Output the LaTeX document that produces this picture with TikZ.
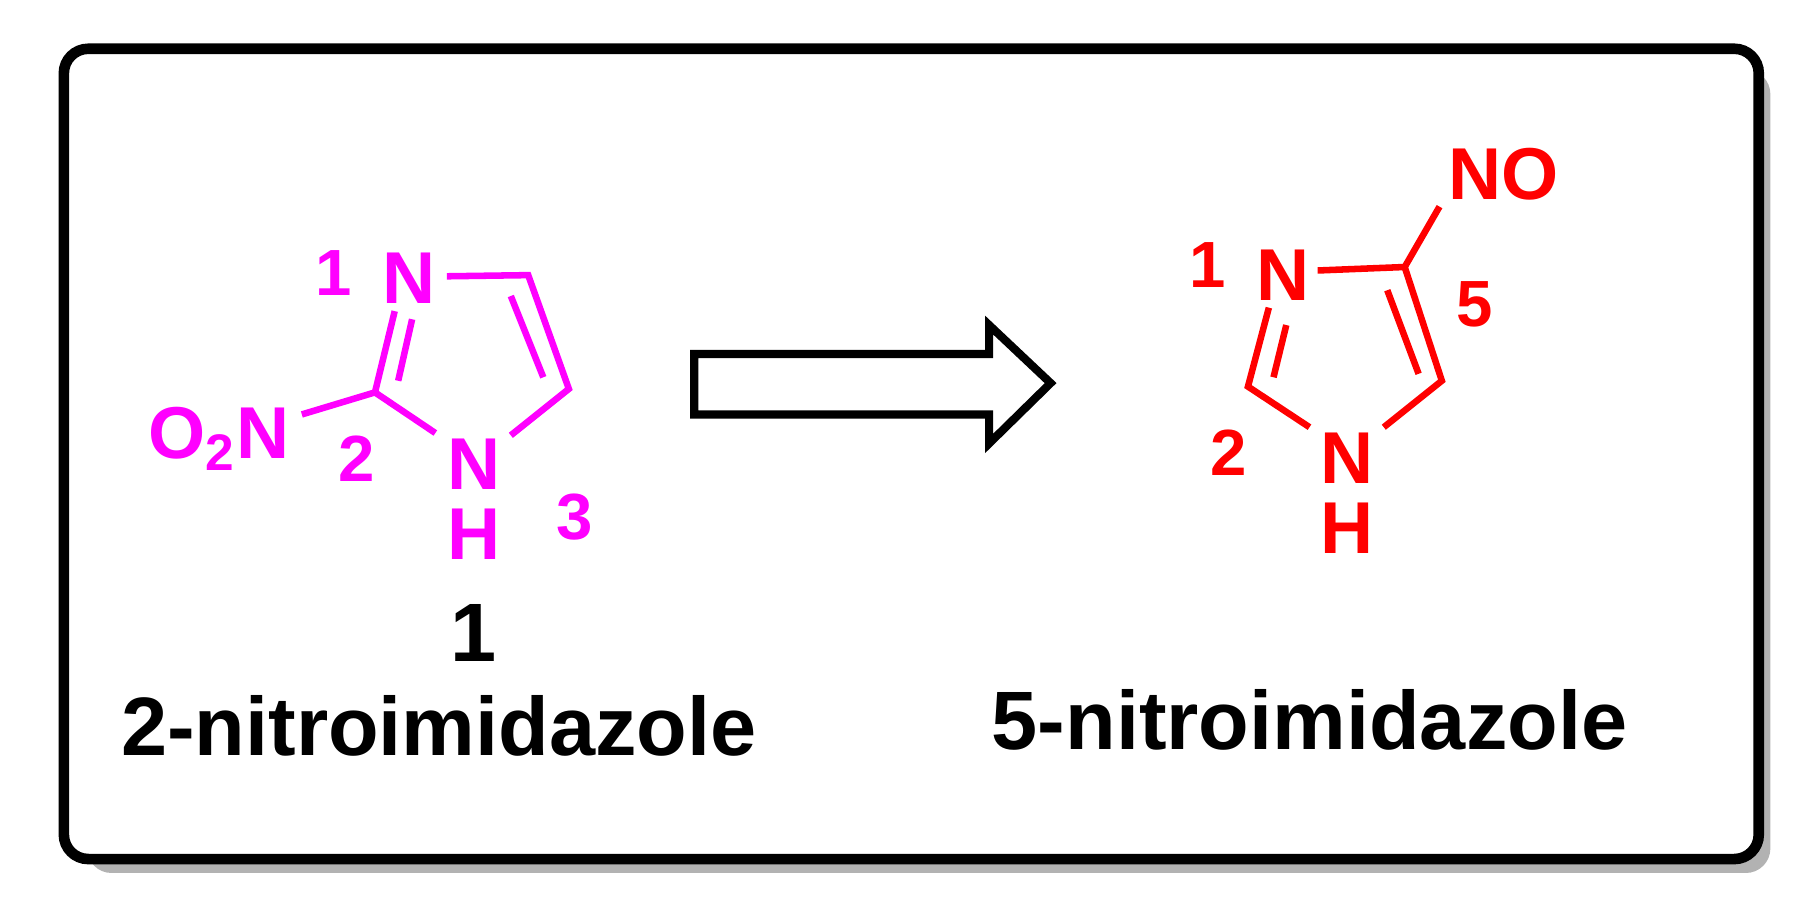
\documentclass[tikz,border=0pt]{standalone}
\usepackage{fontspec}
\setmainfont{Liberation Sans}
\definecolor{mag}{RGB}{255,0,255}
\definecolor{rd}{RGB}{255,0,0}
\begin{document}
\begin{tikzpicture}[x=0.01cm,y=-0.01cm,
  atom/.style={inner sep=0pt,font=\fontsize{18}{18}\selectfont\bfseries},
  num/.style={inner sep=0pt,font=\fontsize{16}{16}\selectfont\bfseries},
  title/.style={inner sep=0pt,font=\fontsize{20.3}{20}\selectfont\bfseries},
  bond/.style={line width=1.6pt}]
\useasboundingbox (0,0) rectangle (1560,785);
% shadow
\fill[gray!60] (75,60) [rounded corners=6pt] rectangle (1525,752);
\draw[line width=2.6pt, fill=white, rounded corners=6pt] (55,42) rectangle (1515,740);
% left molecule
\begin{scope}[mag]
\node[atom,text=mag] (n1) at (352,240) {N};
\node[atom,text=mag] (n3) at (408,400) {N};
\node[atom,text=mag] (h3) at (408,460) {H};
\node[atom,text=mag,anchor=east] (no2) at (250,378) {O\textsubscript{2}N};
\coordinate (c2) at (323,338);
\coordinate (c4) at (455,237);
\coordinate (c5) at (490,335);
\draw[bond] (385,238) -- (c4) -- (c5) -- (440,375);
\draw[bond] (440,255) -- (468,325);
\draw[bond] (340,268) -- (c2) -- (375,373);
\draw[bond] (355,275) -- (343,328);
\draw[bond] (260,357) -- (c2);
\node[num,text=mag] (l1) at (287,235) {1};
\node[num,text=mag] (l2) at (307,395) {2};
\node[num,text=mag] (l3) at (495,445) {3};
\end{scope}
\node[title] (cpd) at (408,545) {1};
\node[title] (t1) at (378,625) {2-nitroimidazole};
% arrow
\draw[line width=2pt] (598,305) -- (852,305) -- (852,280) -- (905,330) -- (852,382) -- (852,357) -- (598,357) -- cycle;
% right molecule
\begin{scope}[rd]
\node[atom,text=rd] (m1) at (1105,237) {N};
\node[atom,text=rd] (m3) at (1160,395) {N};
\node[atom,text=rd] (mh) at (1160,455) {H};
\node[atom,text=rd] (mno) at (1295,150) {NO};
\coordinate (d2) at (1075,333);
\coordinate (d4) at (1242,328);
\coordinate (d5) at (1210,230);
\draw[bond] (1135,233) -- (d5) -- (d4) -- (1192,368);
\draw[bond] (1195,250) -- (1222,322);
\draw[bond] (1093,265) -- (d2) -- (1128,368);
\draw[bond] (1108,280) -- (1097,325);
\draw[bond] (d5) -- (1240,178);
\node[num,text=rd] (k1) at (1040,228) {1};
\node[num,text=rd] (k5) at (1270,262) {5};
\node[num,text=rd] (k2) at (1058,390) {2};
\end{scope}
\node[title] (t2) at (1128,620) {5-nitroimidazole};
\end{tikzpicture}
\end{document}
